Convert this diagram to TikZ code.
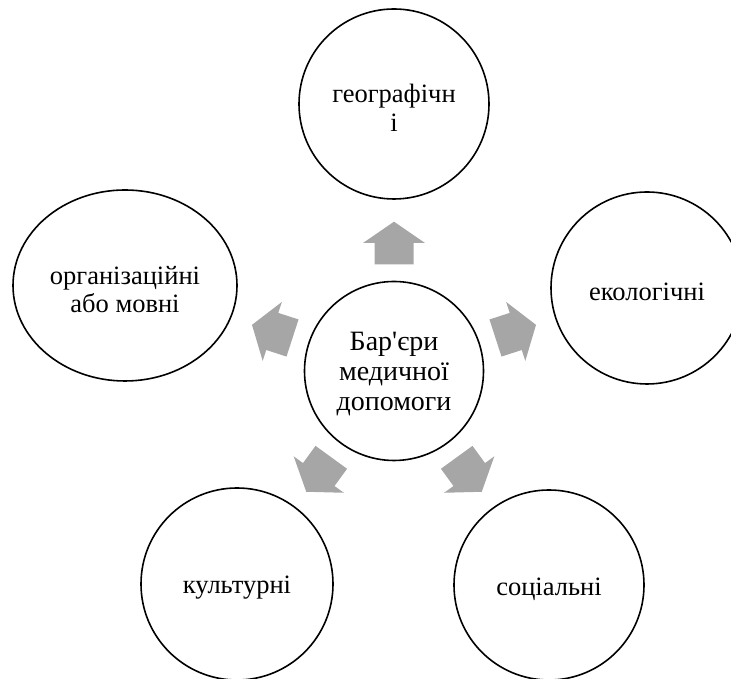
\documentclass[tikz,border=0pt]{standalone}
\usepackage{fontspec}
\setmainfont{Liberation Serif}[Ligatures=TeXOff]
\usetikzlibrary{shapes.geometric}
\definecolor{arrowgray}{RGB}{166,166,166}
\tikzset{
  bubble/.style={circle, draw=black, line width=1.6pt, inner sep=0pt},
  ovalbubble/.style={ellipse, draw=black, line width=1.6pt, inner sep=0pt},
  txt/.style={label={[font=\fontsize{26.5}{28.5}\selectfont, align=center, yshift=-4pt, inner sep=0pt]center:#1}},
  bigtxt/.style={label={[font=\fontsize{28}{30}\selectfont, align=center, yshift=-3pt, inner sep=0pt]center:#1}},
  blockarrow/.style={fill=arrowgray, draw=none}
}
\newcommand{\outarrow}[2]{%
  \fill[blockarrow, shift={(#1)}, rotate=#2]
    (106.7,-19.5) -- (128,-19.5) -- (128,-31) -- (149.3,0) -- (128,31)
    -- (128,19.5) -- (106.7,19.5) -- cycle;}
\begin{document}
\begin{tikzpicture}[x=1pt,y=1pt]
  \useasboundingbox (0,0) rectangle (731,679);
  \node[bubble, minimum size=179pt, bigtxt={Бар'єри\\медичної\\допомоги}] (c) at (394,308) {};
  \node[bubble, minimum size=190pt, txt={географічн\\і}] (geo) at (394,575) {};
  \node[bubble, minimum size=192pt, txt={екологічні}] (eco) at (647,391) {};
  \node[bubble, minimum size=190pt, txt={соціальні}] (soc) at (549,94) {};
  \node[bubble, minimum size=192pt, txt={культурні}] (cul) at (237,95) {};
  \node[ovalbubble, minimum width=224pt, minimum height=191pt, txt={організаційні\\або мовні}] (org) at (125,393.5) {};
  \outarrow{c}{90}
  \outarrow{c}{18}
  \outarrow{c}{-54}
  \outarrow{c}{-126}
  \outarrow{c}{162}
\end{tikzpicture}
\end{document}
